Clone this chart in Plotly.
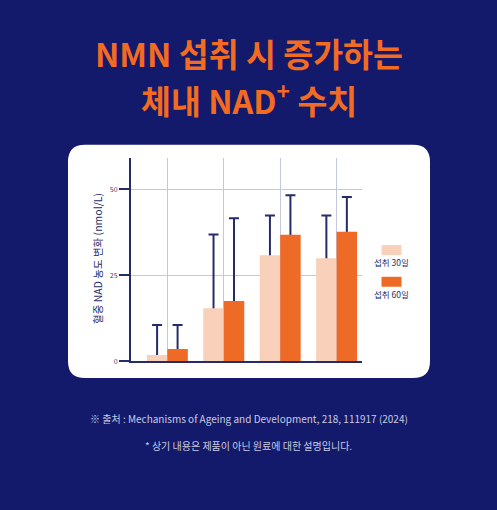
import plotly.graph_objects as go

W, H = 497, 510

categories = ["A", "B", "C", "D"]
series_names = ["섭취 30일", "섭취 60일"]
values_30 = [1.8, 15.4, 30.8, 29.9]
err_top_30 = [10.5, 36.8, 42.3, 42.3]
values_60 = [3.5, 17.5, 36.7, 37.6]
err_top_60 = [10.5, 41.5, 48.2, 47.7]
y_ticks = [0, 25, 50]

NAVY = "#131a6b"
ORANGE = "#f26b21"
PEACH = "#f9d0ba"
DARK_ORANGE = "#ee6a27"
AXIS = "#262b6a"
GRID = "#c5c8dc"
FONT = "Noto Sans CJK KR"

BAR_W = 0.363

def px(x):
    return x / W

def py(y):
    return 1 - y / H

fig = go.Figure()
series = [
    (series_names[0], values_30, err_top_30, PEACH, -BAR_W),
    (series_names[1], values_60, err_top_60, DARK_ORANGE, 0.0),
]
# error bars first (transparent bars), so that the visible bars cover the lower part
for name, vals, tops, col, off in series:
    fig.add_trace(go.Bar(
        x=categories, y=vals, name=name + " err", offset=off, width=BAR_W,
        marker=dict(color="rgba(0,0,0,0)", line=dict(width=0)),
        error_y=dict(type="data", symmetric=False,
                     array=[t - v for t, v in zip(tops, vals)],
                     arrayminus=list(vals),
                     color=AXIS, thickness=2, width=5),
        showlegend=False, hoverinfo="skip",
    ))
for name, vals, tops, col, off in series:
    fig.add_trace(go.Bar(
        x=categories, y=vals, name=name, offset=off, width=BAR_W,
        marker=dict(color=col, line=dict(width=0)),
        showlegend=False,
    ))

# card background (rounded rect)
x0, x1, y0, y1, r = 68, 430, 146, 381, 17
rx, ry = r / W, r / H
X0, X1, Y0, Y1 = px(x0), px(x1), py(y0), py(y1)
path = (f"M {X0+rx},{Y0} L {X1-rx},{Y0} Q {X1},{Y0} {X1},{Y0-ry} "
        f"L {X1},{Y1+ry} Q {X1},{Y1} {X1-rx},{Y1} L {X0+rx},{Y1} "
        f"Q {X0},{Y1} {X0},{Y1+ry} L {X0},{Y0-ry} Q {X0},{Y0} {X0+rx},{Y0} Z")
shapes = [dict(type="path", path=path, xref="paper", yref="paper",
               fillcolor="white", line=dict(width=0), layer="below")]

# legend swatches
for (top, col) in [(247, PEACH), (279, DARK_ORANGE)]:
    shapes.append(dict(type="rect", xref="paper", yref="paper",
                       x0=px(381.5), x1=px(401.5), y0=py(top), y1=py(top + 10),
                       fillcolor=col, line=dict(width=0)))

TITLE_FONT = dict(family=FONT, size=32.5, color=ORANGE, weight="bold")
annotations = [
    dict(text="NMN 섭취 시 증가하는", x=0.5, y=py(52.5), xref="paper", yref="paper",
         showarrow=False, font=TITLE_FONT, xanchor="center", yanchor="middle"),
    dict(text="체내 NAD<sup>+</sup> 수치", x=0.5, y=py(99.5), xref="paper", yref="paper",
         showarrow=False, font=TITLE_FONT, xanchor="center", yanchor="middle"),
    dict(text="혈중 NAD 농도 변화 (nmol/L)", x=px(98), y=py(261), xref="paper", yref="paper",
         showarrow=False, textangle=-90, font=dict(family=FONT, size=10.5, color=AXIS),
         xanchor="center", yanchor="middle"),
    dict(text=series_names[0], x=px(391.5), y=py(264), xref="paper", yref="paper",
         showarrow=False, font=dict(family=FONT, size=8.5, color=AXIS),
         xanchor="center", yanchor="middle"),
    dict(text=series_names[1], x=px(391.5), y=py(296), xref="paper", yref="paper",
         showarrow=False, font=dict(family=FONT, size=8.5, color=AXIS),
         xanchor="center", yanchor="middle"),
    dict(text="※ 출처 : Mechanisms of Ageing and Development, 218, 111917 (2024)",
         x=0.5, y=py(422), xref="paper", yref="paper", showarrow=False,
         font=dict(family=FONT, size=10, color="#c9cbe2"), xanchor="center", yanchor="middle"),
    dict(text="* 상기 내용은 제품이 아닌 원료에 대한 설명입니다.",
         x=0.5, y=py(449), xref="paper", yref="paper", showarrow=False,
         font=dict(family=FONT, size=10, color="#c9cbe2"), xanchor="center", yanchor="middle"),
]

fig.update_layout(
    width=W, height=H, margin=dict(l=0, r=0, t=0, b=0),
    paper_bgcolor=NAVY, plot_bgcolor="rgba(0,0,0,0)",
    barmode="overlay",
    shapes=shapes, annotations=annotations,
    xaxis=dict(domain=[px(131), px(362)], range=[-0.644, 3.45],
               showticklabels=False, ticks="", showgrid=True, gridcolor=GRID, gridwidth=1,
               showline=True, linecolor=AXIS, linewidth=2, zeroline=False, fixedrange=True),
    yaxis=dict(domain=[py(364), py(159)], range=[0, 59.1], tickvals=y_ticks,
               showgrid=True, gridcolor=GRID, gridwidth=1, zeroline=False,
               showline=True, linecolor=AXIS, linewidth=2,
               ticks="outside", ticklen=10, tickwidth=2, tickcolor=AXIS,
               tickfont=dict(family=FONT, size=7, color="#3a3d6e")),
    font=dict(family=FONT),
)

fig.write_html("out.html")
